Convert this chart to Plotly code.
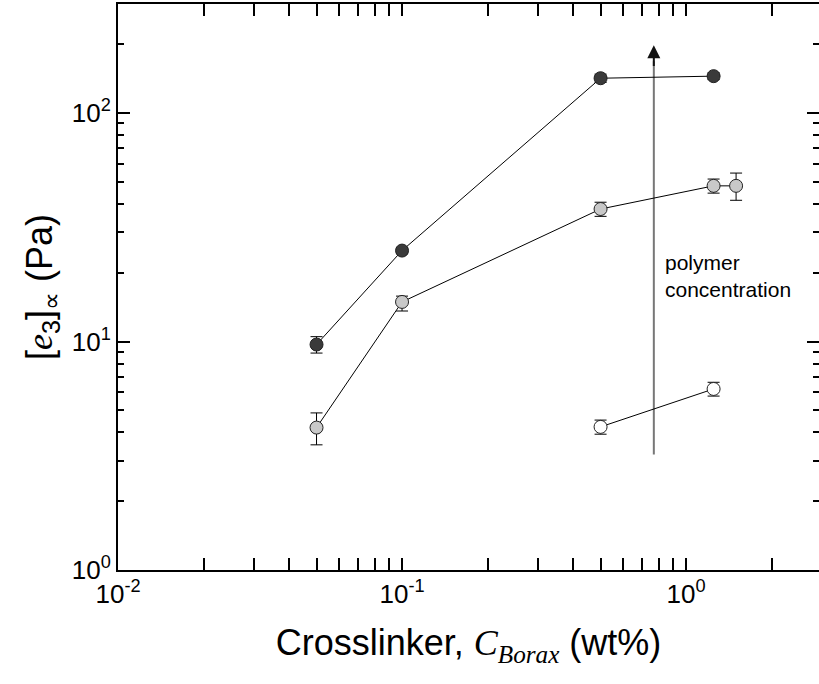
import numpy as np
import plotly.graph_objects as go

# Borax crosslinker concentration (wt%) and asymptotic [e3] (Pa) for three polymer levels
x_high = [0.05, 0.1, 0.5, 1.25]
y_high = [9.7, 25.0, 142.0, 145.0]
err_high = [0.8, 0.8, 6.0, 5.0]

x_mid = [0.05, 0.1, 0.5, 1.25, 1.5]
y_mid = [4.2, 14.9, 38.0, 48.0, 48.0]
err_mid_plus = [0.67, 0.9, 2.7, 3.4, 6.6]
err_mid_minus = [0.67, 1.3, 2.7, 3.4, 6.5]

x_low = [0.5, 1.25]
y_low = [4.23, 6.2]
err_low = [0.3, 0.43]

# arrow marking increasing polymer concentration
arrow_x = 0.77
arrow_y = [3.2, 198.0]

x_major = [0.01, 0.1, 1]
x_major_text = ["10<sup>-2</sup>", "10<sup>-1</sup>", "10<sup>0</sup>"]
y_major = [1, 10, 100]
y_major_text = ["10<sup>0</sup>", "10<sup>1</sup>", "10<sup>2</sup>"]

x_minor = [m * 10.0 ** e for e in (-2, -1, 0) for m in range(2, 10)]
y_minor = [m * 10.0 ** e for e in (0, 1, 2) for m in range(2, 10)]

FONT = "Arial, Liberation Sans, sans-serif"
SERIF = "Times New Roman, Liberation Serif, serif"

fig = go.Figure()


def series(x, y, ep, em, fill):
    fig.add_trace(go.Scatter(
        x=x, y=y, mode="lines+markers",
        line=dict(color="black", width=1),
        marker=dict(symbol="circle", size=13, color=fill,
                    line=dict(color="#222222", width=1)),
        error_y=dict(type="data", array=ep, arrayminus=em, symmetric=False,
                     color="black", thickness=1, width=6),
        showlegend=False, hoverinfo="x+y",
    ))


series(x_high, y_high, err_high, err_high, "#3a3a3a")
series(x_mid, y_mid, err_mid_plus, err_mid_minus, "#c8c8c8")
series(x_low, y_low, err_low, err_low, "white")

# arrow shaft (grey) and head (black)
fig.add_shape(type="line", x0=arrow_x, x1=arrow_x, y0=arrow_y[0], y1=arrow_y[1] * 0.85,
              line=dict(color="#777777", width=2), layer="below")
fig.add_annotation(x=np.log10(arrow_x), y=np.log10(arrow_y[1]),
                   ax=np.log10(arrow_x), ay=np.log10(arrow_y[1] * 0.8),
                   xref="x", yref="y", axref="x", ayref="y",
                   showarrow=True, arrowhead=2, arrowsize=1.3, arrowwidth=2,
                   arrowcolor="#111111", text="")

fig.add_annotation(x=np.log10(0.83), y=np.log10(19.3), xref="x", yref="y",
                   text="polymer<br>concentration", showarrow=False,
                   xanchor="left", yanchor="middle", align="left",
                   font=dict(family=FONT, size=21, color="black"))

axis_common = dict(
    type="log", showgrid=False, zeroline=False,
    showline=True, linecolor="black", linewidth=2,
    ticks="inside", ticklen=12, tickwidth=2, tickcolor="black",
    tickfont=dict(family=FONT, size=26, color="black"),
    tickmode="array",
    minor=dict(ticks="inside", ticklen=6, tickwidth=1.5, tickcolor="black",
               showgrid=False, tickmode="array"),
)

fig.update_xaxes(
    **axis_common,
    range=[-2, 0.468], mirror="allticks",
    tickvals=x_major, ticktext=x_major_text,
    minor_tickvals=x_minor,
    title=dict(text=f"Crosslinker, <span style='font-family:{SERIF}'><i>C</i><sub><i>Borax</i></sub></span> (wt%)",
               font=dict(family=FONT, size=36, color="black"), standoff=22),
)

fig.update_yaxes(
    **axis_common,
    range=[0, np.log10(300)], mirror=False,
    tickvals=y_major, ticktext=y_major_text,
    minor_tickvals=y_minor,
    title=dict(text=f"[<span style='font-family:{SERIF}'><i>e</i></span><sub>3</sub>]<sub>∝</sub> (Pa)",
               font=dict(family=FONT, size=36, color="black"), standoff=8),
)

# right-hand ticks without an axis line
fig.update_layout(yaxis2=dict(
    type="log", overlaying="y", side="right", range=[0, np.log10(300)],
    showline=False, showgrid=False, zeroline=False, showticklabels=False,
    ticks="inside", ticklen=12, tickwidth=2, tickcolor="black",
    tickmode="array", tickvals=y_major,
    minor=dict(ticks="inside", ticklen=6, tickwidth=1.5, tickcolor="black",
               tickmode="array", tickvals=y_minor, showgrid=False),
))
fig.add_trace(go.Scatter(x=[0.01], y=[1], yaxis="y2", mode="markers",
                         marker=dict(opacity=0), showlegend=False, hoverinfo="skip"))

fig.update_layout(
    width=819, height=684,
    margin=dict(l=118, r=0, t=4, b=114),
    paper_bgcolor="white", plot_bgcolor="white",
    font=dict(family=FONT, color="black"),
)

fig.write_html("out.html")
